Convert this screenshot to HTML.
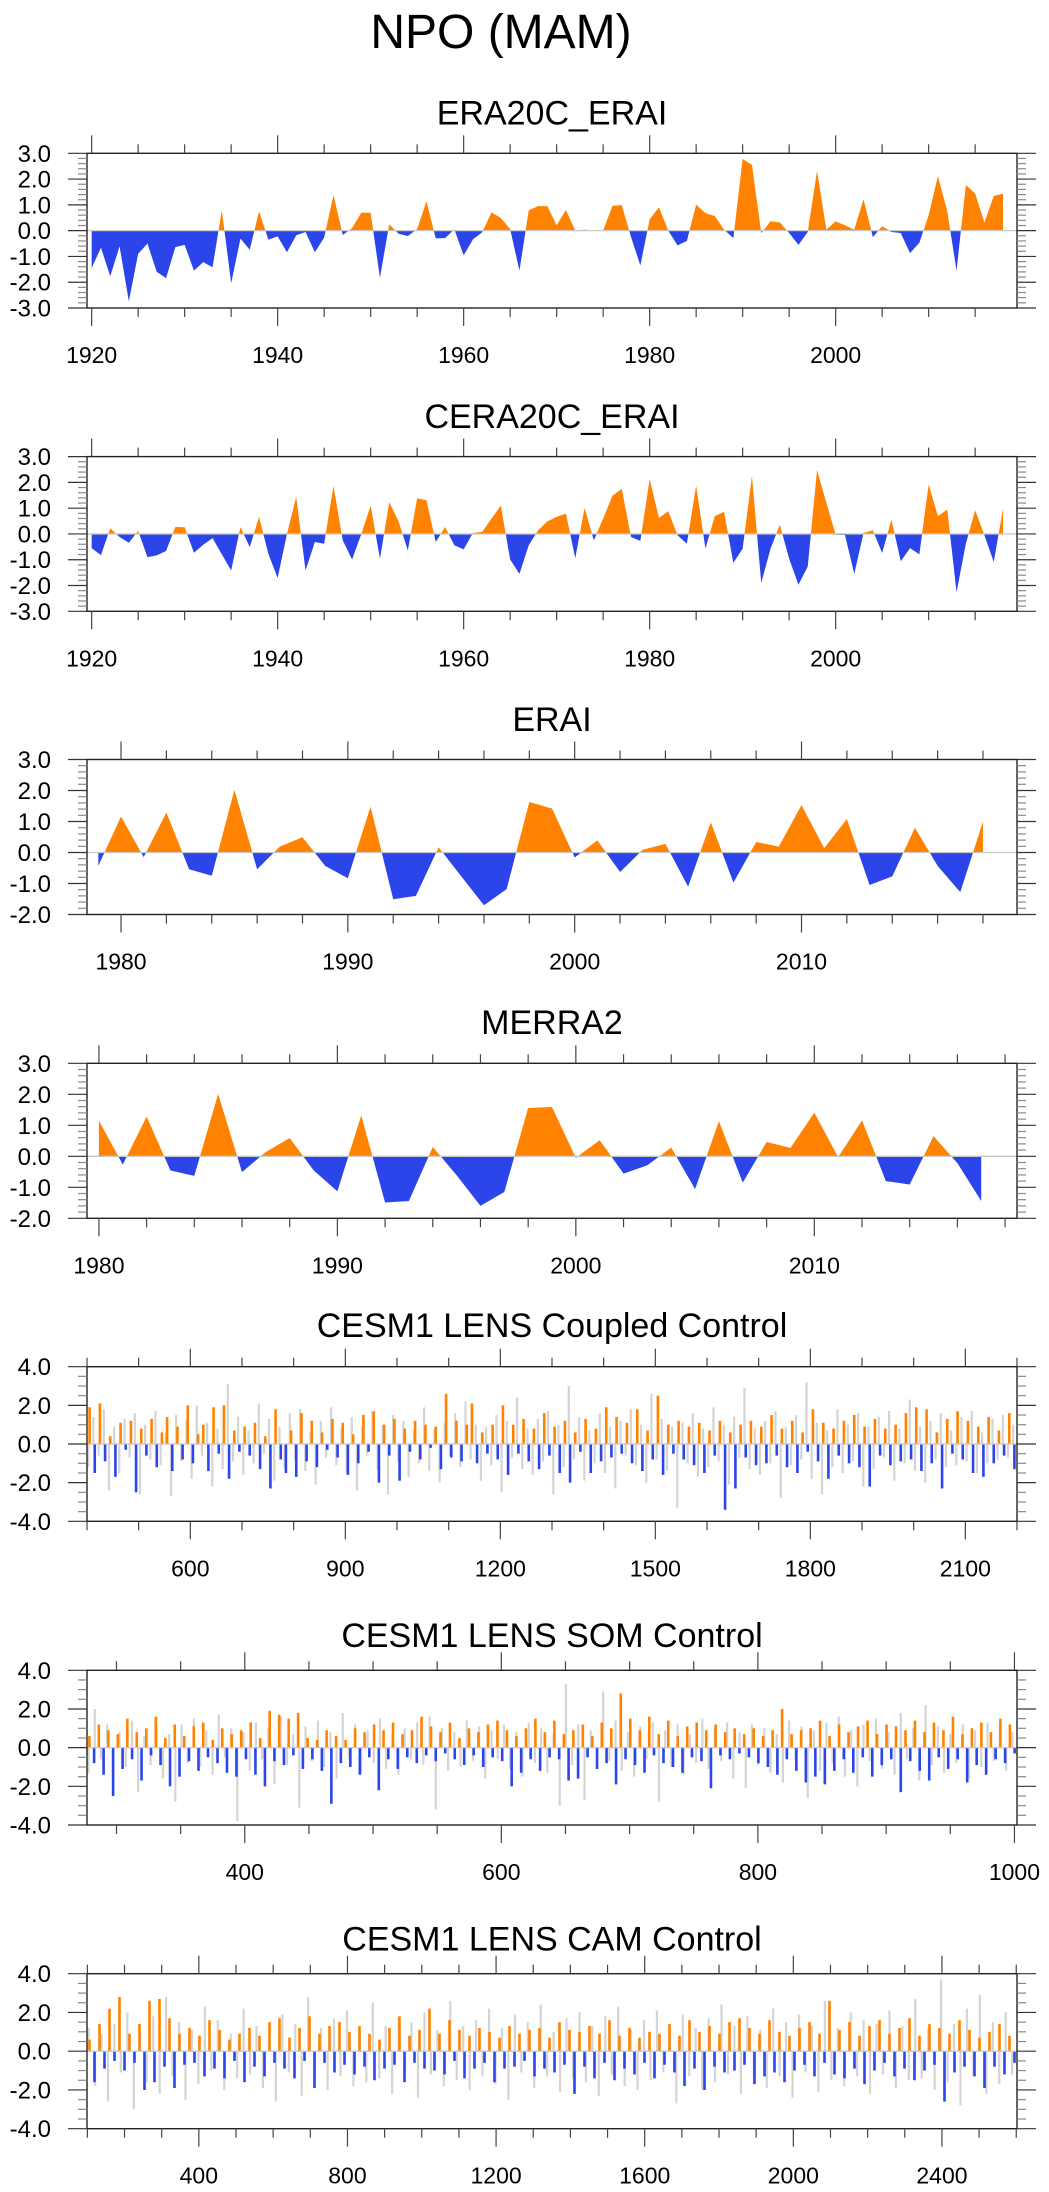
<!DOCTYPE html>
<html><head><meta charset="utf-8"><title>NPO (MAM)</title>
<style>
html,body{margin:0;padding:0;background:#fff;}
svg{display:block;font-family:"Liberation Sans",Arial,sans-serif;}
</style></head>
<body>
<svg id="fig" xmlns="http://www.w3.org/2000/svg" width="1049" height="2192" viewBox="0 0 1049 2192">
<rect x="0" y="0" width="1049" height="2192" fill="#fff"/>
<text x="501" y="48" font-size="48" text-anchor="middle" fill="#000">NPO (MAM)</text>
</svg>
<script>
// ---------- data ----------
const era20cYears = [1920,2018];
const era20cValues = [-1.45,-0.66,-1.77,-0.61,-2.74,-0.9,-0.5,-1.6,-1.84,-0.64,-0.55,-1.55,-1.22,-1.42,0.79,-2.04,-0.31,-0.74,0.75,-0.35,
-0.22,-0.84,-0.18,-0.05,-0.84,-0.27,1.38,-0.17,0.1,0.7,0.69,-1.83,0.25,-0.12,-0.21,0.06,1.14,-0.3,-0.29,0.05,
-0.96,-0.34,-0.06,0.71,0.49,0.06,-1.55,0.79,0.95,0.95,0.21,0.8,0.0,0.04,0.0,0.01,0.96,0.99,-0.25,-1.35,
0.44,0.91,0.0,-0.57,-0.4,1.01,0.68,0.57,0.04,-0.29,2.78,2.55,-0.09,0.36,0.32,-0.09,-0.55,-0.05,2.32,0.04,
0.36,0.21,0.04,1.22,-0.25,0.17,-0.05,-0.09,-0.87,-0.47,0.6,2.12,0.75,-1.55,1.77,1.44,0.31,1.35,1.43];
const cera20cValues = [-0.55,-0.82,0.22,-0.12,-0.34,0.12,-0.9,-0.83,-0.66,0.27,0.26,-0.73,-0.42,-0.16,-0.79,-1.42,0.27,-0.51,0.66,-0.77,
-1.71,0.0,1.44,-1.42,-0.31,-0.38,1.86,-0.25,-0.99,0.0,1.1,-0.96,1.23,0.49,-0.64,1.38,1.31,-0.31,0.27,-0.44,
-0.6,0.04,0.08,0.6,1.1,-0.99,-1.55,-0.44,0.14,0.49,0.66,0.79,-0.94,1.01,-0.25,0.6,1.48,1.75,-0.12,-0.27,
2.13,0.62,0.88,-0.05,-0.38,1.88,-0.57,0.69,0.86,-1.12,-0.57,2.25,-1.9,-0.57,0.36,-0.96,-1.97,-1.26,2.48,1.21,
-0.03,-0.04,-1.55,0.04,0.14,-0.74,0.56,-1.06,-0.55,-0.79,1.92,0.69,0.95,-2.26,-0.38,0.92,-0.05,-1.09,0.99];
const eraiYears = [1979,2018];
const eraiValues = [-0.43,1.16,-0.15,1.29,-0.54,-0.75,2.02,-0.54,0.19,0.49,-0.43,-0.83,1.48,-1.51,-1.4,0.17,-0.77,-1.7,-1.18,1.63,
1.42,-0.16,0.39,-0.63,0.09,0.28,-1.1,0.97,-0.97,0.34,0.19,1.53,0.14,1.08,-1.05,-0.77,0.8,-0.43,-1.28,1.0];
const merraYears = [1980,2017];
const merraValues = [1.15,-0.27,1.28,-0.46,-0.63,2.01,-0.51,0.14,0.59,-0.45,-1.13,1.32,-1.49,-1.44,0.3,-0.61,-1.6,-1.15,1.56,1.59,
-0.05,0.52,-0.56,-0.29,0.28,-1.06,1.13,-0.85,0.46,0.27,1.41,-0.03,1.16,-0.8,-0.91,0.65,-0.22,-1.44];

const coupledRange = [400,2200];
const coupledValues = [1.9,-1.5,2.1,-0.9,0.4,-1.7,1.1,-0.3,1.2,-2.5,0.8,-0.6,1.3,-1.2,0.6,1.4,-1.4,0.9,-0.8,2.0,-1.0,0.5,1.0,-1.4,1.9,-0.5,2.0,-1.8,0.7,-0.4,
0.9,-0.6,1.1,-1.3,0.4,-2.3,1.8,-0.8,-1.5,0.7,-1.7,1.6,-0.9,1.2,-1.2,0.6,-0.3,1.3,-0.7,1.1,-1.6,0.5,-1.0,1.5,-0.4,1.7,-2.0,1.0,-0.6,1.3,
-1.9,0.8,-0.4,1.2,-0.8,1.0,-0.2,0.9,-1.3,2.6,-0.7,1.2,-0.9,1.0,2.1,-1.0,0.6,-0.5,1.0,-0.8,2.0,-1.6,1.0,-0.5,1.3,-0.9,0.8,-1.3,1.6,-0.6,
0.9,-1.5,1.2,-2.0,0.6,-0.4,1.3,-1.5,0.8,-0.9,1.9,-0.7,1.4,-0.5,1.1,-1.0,1.8,-1.4,0.7,-0.8,2.5,-1.6,1.0,-0.5,1.2,-0.8,0.9,-1.1,1.1,-1.5,
0.7,-0.6,1.2,-3.4,0.6,-2.3,1.0,-0.7,1.2,-1.1,0.9,-1.0,1.5,-0.6,0.8,-1.2,1.2,-1.5,0.6,-0.4,1.8,-0.9,1.1,-1.8,0.8,-0.6,1.2,-1.0,1.5,-1.2,
0.9,-2.2,1.3,-0.6,0.8,-1.1,1.0,-0.9,1.6,-0.8,1.9,-1.4,1.8,-1.0,0.6,-2.3,1.3,-0.5,1.7,-0.8,1.2,-1.5,0.9,-1.7,1.4,-1.0,0.7,-0.6,1.6,-1.3];
const coupledGray = [-1.2,1.4,-0.6,1.8,-2.4,0.9,-1.5,1.3,-0.7,1.6,-2.6,1.0,-0.8,1.7,-1.1,0.6,-2.7,1.5,-0.9,1.2,-1.8,2.0,-0.6,1.1,-2.2,0.8,-1.3,3.1,-0.9,1.4,
-1.6,0.7,-1.0,2.1,-0.5,1.3,-1.9,0.9,-1.2,1.6,-0.8,1.8,-1.4,0.6,-2.1,1.2,-0.7,1.9,-1.1,0.8,-1.5,1.4,-2.4,0.9,-0.6,1.7,-1.3,1.0,-2.6,1.5,
-0.9,1.2,-1.7,0.7,-1.0,1.9,-1.4,0.8,-2.0,1.1,-0.6,1.6,-1.2,2.2,-0.8,1.0,-1.9,0.9,-1.1,1.5,-2.5,1.2,-0.7,2.4,-1.3,0.8,-1.6,1.3,-0.9,1.7,
-2.6,1.0,-1.2,3.0,-0.8,1.4,-1.9,0.7,-1.0,1.6,-1.5,0.9,-2.3,1.2,-0.6,1.8,-1.1,1.0,-2.0,2.6,-0.8,1.3,-1.4,0.9,-3.3,1.1,-1.0,1.6,-1.7,0.8,
-1.2,1.9,-0.9,1.0,-2.1,1.4,-0.7,2.9,-1.3,0.8,-1.6,1.2,-1.0,1.7,-2.8,0.9,-1.1,1.5,-0.8,3.2,-1.8,1.1,-2.6,0.7,-1.2,1.8,-1.5,1.0,-0.9,1.6,
-2.2,0.9,-1.3,1.4,-0.7,1.7,-1.9,0.8,-1.0,2.3,-1.4,0.9,-2.0,1.2,-0.8,1.6,-1.2,0.7,-1.1,1.4,-0.9,1.7,-1.5,0.6,-1.0,1.3,-0.8,1.5,-0.7,1.0];

const somRange = [277,1002];
const somValues = [0.6,-0.8,1.2,-1.4,0.9,-2.5,0.7,-1.1,1.5,-0.6,0.8,-1.7,1.0,-0.4,1.6,-0.9,0.5,-2.0,1.2,-1.5,0.6,-0.7,1.1,-1.2,1.3,-0.5,0.4,-0.8,1.0,-1.3,
0.7,-1.5,0.9,-0.6,1.3,-1.4,0.5,-2.0,1.9,-0.7,1.7,-0.9,1.5,-0.4,1.8,-1.1,0.5,-0.6,0.4,-1.2,0.9,-2.9,0.6,-0.8,0.4,-1.0,1.0,-1.4,0.8,-0.5,
1.2,-2.2,0.9,-0.6,1.3,-1.1,0.7,-0.5,0.9,-0.8,1.6,-0.4,1.1,-0.7,0.8,-0.3,1.3,-0.6,0.5,-0.9,1.0,-0.4,0.8,-1.0,1.2,-0.5,1.4,-0.7,0.9,-2.0,
0.6,-1.3,1.0,-0.6,1.5,-1.2,0.8,-0.5,1.4,-0.6,0.7,-1.7,0.9,-1.6,1.2,-0.5,0.6,-1.1,1.3,-0.8,1.0,-1.9,2.8,-0.6,1.5,-0.9,0.9,-1.3,1.6,-0.4,
0.7,-0.8,1.4,-1.0,0.6,-1.3,1.1,-0.5,1.3,-0.7,0.9,-2.1,1.2,-0.4,0.8,-0.6,1.0,-0.3,0.7,-0.5,1.0,-0.8,0.6,-1.0,0.9,-1.4,2.0,-0.6,0.7,-1.2,
0.9,-1.8,1.0,-1.5,1.4,-1.9,0.6,-1.2,1.2,-0.6,0.8,-1.3,1.1,-0.5,1.4,-1.5,0.7,-0.9,1.2,-0.6,1.1,-2.3,0.9,-0.7,1.4,-1.2,0.8,-1.7,1.3,-0.5,
0.9,-1.1,1.6,-0.6,0.7,-1.8,1.0,-0.9,1.3,-1.4,0.8,-0.6,1.5,-0.8,1.2,-0.3];
const somGray = [-1.3,2.0,-0.6,1.2,-1.9,0.8,-1.0,1.4,-2.3,0.6,-0.9,1.1,-1.6,0.7,-2.8,1.2,-0.8,1.5,-1.0,0.9,-1.4,1.7,-0.5,1.0,-3.8,0.8,-1.2,1.3,-0.6,1.0,
-1.9,1.6,-0.9,0.7,-3.1,1.1,-0.7,1.4,-1.0,0.8,-1.6,1.8,-0.6,1.2,-1.3,0.9,-0.8,1.5,-1.1,0.7,-1.4,1.0,-0.6,1.3,-0.9,1.6,-3.2,1.0,-1.2,0.8,
-1.0,1.4,-0.7,1.1,-1.6,0.9,-0.6,1.2,-1.1,0.8,-1.5,1.3,-0.8,1.0,-1.3,0.7,-3.0,3.3,-0.9,1.2,-2.7,0.9,-1.1,2.9,-0.7,1.4,-1.2,0.8,-1.5,1.1,
-0.6,1.3,-2.8,0.9,-1.0,1.2,-1.4,0.7,-0.8,1.5,-1.1,1.0,-0.7,1.3,-1.6,0.8,-2.1,1.2,-0.9,1.0,-1.3,0.7,-1.8,1.4,-0.6,1.1,-2.6,0.9,-1.2,1.3,
-0.8,1.6,-1.5,0.9,-2.0,1.2,-0.7,1.5,-1.1,0.8,-1.4,1.8,-0.6,1.0,-1.7,2.2,-0.9,1.1,-1.3,0.7,-0.8,1.2,-1.6,0.9,-1.0,1.3,-0.7,1.0,-1.2,0.8];

const camRange = [99,2602];
const camValues = [0.6,-1.6,1.4,-0.9,2.2,-0.5,2.8,-1.0,0.9,-0.6,1.4,-2.0,2.6,-1.6,2.7,-0.8,1.7,-1.9,0.9,-0.7,1.2,-0.6,0.8,-1.3,1.6,-0.9,1.1,-1.4,0.6,-0.5,
0.9,-1.6,1.2,-0.8,0.8,-1.3,1.5,-0.6,1.7,-0.9,0.7,-1.4,1.2,-0.5,1.8,-1.9,0.9,-0.6,1.3,-1.1,1.5,-0.7,1.0,-1.2,1.3,-0.8,0.9,-1.5,0.6,-0.9,
1.2,-0.7,1.8,-1.6,0.8,-0.6,1.1,-0.9,2.2,-1.0,0.9,-1.2,1.6,-0.5,1.1,-1.4,0.8,-0.9,1.2,-0.6,1.0,-1.6,0.7,-0.9,1.3,-0.8,0.9,-0.5,1.1,-1.3,
1.2,-0.9,0.7,-1.1,1.5,-0.7,1.1,-2.2,1.0,-0.8,1.3,-1.4,0.9,-0.6,1.6,-1.5,0.8,-0.9,1.2,-1.2,0.7,-0.6,1.0,-1.4,0.9,-0.7,1.4,-1.1,0.8,-1.8,
1.6,-0.9,1.0,-2.0,1.3,-0.8,0.9,-1.1,1.5,-1.0,1.7,-0.7,1.2,-1.7,0.9,-1.3,1.6,-1.1,1.0,-1.6,0.8,-1.0,1.2,-0.7,1.5,-1.3,0.9,-0.6,2.6,-1.2,
1.1,-1.4,1.5,-0.9,0.8,-1.7,1.3,-1.0,1.6,-0.6,0.9,-1.3,1.2,-0.9,1.7,-1.5,0.8,-1.0,1.4,-0.7,1.2,-2.6,0.9,-1.1,1.6,-0.8,1.1,-1.3,0.7,-1.9,
1.0,-0.8,1.4,-1.2,0.8,-0.6];
const camGray = [1.2,-1.8,0.9,-2.6,1.4,-1.1,2.0,-3.0,1.0,-1.6,1.8,-2.2,2.8,-1.3,1.5,-2.5,1.1,-1.7,2.3,-1.0,1.6,-2.0,0.9,-1.4,2.2,-1.2,1.3,-1.9,1.0,-2.6,
1.9,-1.1,1.4,-2.3,2.8,-1.5,1.2,-2.0,1.7,-1.3,2.1,-1.8,1.0,-1.6,2.5,-1.4,1.3,-2.2,1.8,-1.0,1.5,-2.4,2.0,-1.2,1.1,-1.8,2.6,-1.5,1.3,-2.0,
1.6,-1.3,2.2,-1.7,1.2,-2.5,1.9,-1.1,1.5,-1.9,2.4,-1.3,1.0,-2.1,1.7,-1.4,2.0,-1.6,1.3,-2.3,1.8,-1.2,2.3,-1.8,1.1,-2.0,1.6,-1.5,2.1,-1.1,
1.4,-2.7,1.9,-1.3,1.2,-2.0,1.7,-1.6,2.4,-1.2,1.3,-2.2,1.8,-1.4,1.1,-1.9,2.2,-1.3,1.5,-2.4,1.9,-1.1,1.3,-2.1,2.6,-1.5,1.2,-1.8,2.0,-1.3,
1.6,-2.2,1.4,-1.2,2.1,-1.9,1.3,-1.5,2.7,-1.4,1.2,-2.0,3.7,-1.6,1.4,-2.8,2.2,-1.3,2.9,-2.2,1.5,-1.7,2.0,-1.2];

// ---------- rendering ----------
const NS = 'http://www.w3.org/2000/svg';
const svg = document.getElementById('fig');
const ORANGE = '#ff8200', BLUE = '#2b45ea', AXIS = '#222';
const BX0 = 87, BX1 = 1017;

function mk(tag, attrs, parent) {
  const e = document.createElementNS(NS, tag);
  for (const k in attrs) e.setAttribute(k, attrs[k]);
  (parent || svg).appendChild(e);
  return e;
}

function makeAxes(p) {
  const xs = v => BX0 + (v - p.xmin) / (p.xmax - p.xmin) * (BX1 - BX0);
  const ys = v => p.top + (p.ymax - v) / (p.ymax - p.ymin) * (p.bot - p.top);
  return {xs, ys};
}

function drawFrame(p, g, ax) {
  const {xs, ys} = ax;
  const zl = mk('line', {x1: BX0, x2: BX1, y1: ys(0), y2: ys(0), stroke: '#c8c8c8', 'stroke-width': 1.3}, g);
  
  
  const box = mk('rect', {x: BX0, y: p.top, width: BX1 - BX0, height: p.bot - p.top, fill: 'none', stroke: AXIS, 'stroke-width': 1.4}, g);
  
  
  const first = Math.ceil(p.xmin / p.xminor) * p.xminor;
  for (let v = first; v <= p.xmax + 1e-6; v += p.xminor) {
    const major = Math.abs(((v - p.xmajor0) / p.xmajor) - Math.round((v - p.xmajor0) / p.xmajor)) < 1e-6;
    const L = major ? 18 : 9;
    const x = xs(v);
    const t1 = mk('line', {x1: x, x2: x, y1: p.bot, y2: p.bot + L, stroke: '#444', 'stroke-width': 1.2}, g);
    
    
    const t2 = mk('line', {x1: x, x2: x, y1: p.top, y2: p.top - L, stroke: '#444', 'stroke-width': 1.2}, g);
    
    
    if (major) {
      const tl = mk('text', {x: x, y: p.bot + 55, 'font-size': 23, 'text-anchor': 'middle', fill: '#000'}, g);
      tl.textContent = String(Math.round(v));
      
      
    }
  }
  const ny = Math.round((p.ymax - p.ymin) / p.yminor);
  for (let i = 0; i <= ny; i++) {
    const v = p.ymin + i * p.yminor;
    const major = Math.abs(v / p.ymajor - Math.round(v / p.ymajor)) < 1e-6;
    const L = major ? 19 : 9;
    const y = ys(v);
    const a = mk('line', {x1: BX0, x2: BX0 - L, y1: y, y2: y, stroke: major ? '#333' : '#888', 'stroke-width': 1.2}, g);
    
    
    const b = mk('line', {x1: BX1, x2: BX1 + L, y1: y, y2: y, stroke: major ? '#333' : '#888', 'stroke-width': 1.2}, g);
    
    
    if (major) {
      const tl = mk('text', {x: 51, y: y + 8.5, 'font-size': 24, 'text-anchor': 'end', fill: '#000'}, g);
      tl.textContent = v.toFixed(1);
      
      
    }
  }
  const tt = mk('text', {x: (BX0 + BX1) / 2, y: p.titleY + 12, 'font-size': 34, 'text-anchor': 'middle', fill: '#000'}, g);
  tt.textContent = p.title;
  
  
}

function areaPanel(p, years, vals) {
  const g = mk('g', {});
  
  
  const ax = makeAxes(p);
  const {xs, ys} = ax;
  const pts = [];
  for (let i = 0; i < vals.length; i++) {
    const x = years[0] + i, v = vals[i];
    if (i > 0) {
      const pv = vals[i - 1];
      if ((pv > 0 && v < 0) || (pv < 0 && v > 0)) {
        const t = pv / (pv - v);
        pts.push([x - 1 + t, 0]);
      }
    }
    pts.push([x, v]);
  }
  function poly(fn, color, nm) {
    let d = 'M' + xs(pts[0][0]) + ',' + ys(0);
    for (const q of pts) d += 'L' + xs(q[0]).toFixed(2) + ',' + ys(fn(q[1])).toFixed(2);
    d += 'L' + xs(pts[pts.length - 1][0]) + ',' + ys(0) + 'Z';
    const e = mk('path', {d: d, fill: color, stroke: 'none'}, g);
    
    
  }
  poly(v => Math.max(v, 0), ORANGE, 'positive-area');
  poly(v => Math.min(v, 0), BLUE, 'negative-area');
  drawFrame(p, g, ax);
}

function barPanel(p, range, vals, gray) {
  const g = mk('g', {});
  
  
  const ax = makeAxes(p);
  const {xs, ys} = ax;
  const span = range[1] - range[0];
  gray.forEach((v, i) => {
    const x = xs(range[0] + (i + 0.25) * span / gray.length);
    const e = mk('line', {x1: x, x2: x, y1: ys(0), y2: ys(v), stroke: '#d4d4d4', 'stroke-width': 2.2}, g);
    
    
  });
  vals.forEach((v, i) => {
    const x = xs(range[0] + (i + 0.5) * span / vals.length);
    const e = mk('line', {x1: x, x2: x, y1: ys(0), y2: ys(v), stroke: v > 0 ? ORANGE : BLUE, 'stroke-width': 2.6}, g);
    
    
  });
  drawFrame(p, g, ax);
}

areaPanel({name: 'panel-era20c-erai', title: 'ERA20C_ERAI', top: 153.3, bot: 308, titleY: 112.5,
  xmin: 1919.5, xmax: 2019.5, xminor: 5, xmajor: 20, xmajor0: 1920, ymin: -3, ymax: 3, yminor: 0.2, ymajor: 1},
  era20cYears, era20cValues);
areaPanel({name: 'panel-cera20c-erai', title: 'CERA20C_ERAI', top: 456.6, bot: 611.3, titleY: 416,
  xmin: 1919.5, xmax: 2019.5, xminor: 5, xmajor: 20, xmajor0: 1920, ymin: -3, ymax: 3, yminor: 0.2, ymajor: 1},
  era20cYears, cera20cValues);
areaPanel({name: 'panel-erai', title: 'ERAI', top: 759.5, bot: 914.5, titleY: 719,
  xmin: 1978.5, xmax: 2019.5, xminor: 2, xmajor: 10, xmajor0: 1980, ymin: -2, ymax: 3, yminor: 0.2, ymajor: 1},
  eraiYears, eraiValues);
areaPanel({name: 'panel-merra2', title: 'MERRA2', top: 1063.3, bot: 1218.3, titleY: 1022,
  xmin: 1979.5, xmax: 2018.5, xminor: 2, xmajor: 10, xmajor0: 1980, ymin: -2, ymax: 3, yminor: 0.2, ymajor: 1},
  merraYears, merraValues);
barPanel({name: 'panel-coupled-control', title: 'CESM1 LENS Coupled Control', top: 1366.7, bot: 1521.3, titleY: 1325,
  xmin: 400, xmax: 2200, xminor: 100, xmajor: 300, xmajor0: 600, ymin: -4, ymax: 4, yminor: 0.5, ymajor: 2},
  coupledRange, coupledValues, coupledGray);
barPanel({name: 'panel-som-control', title: 'CESM1 LENS SOM Control', top: 1670.3, bot: 1825, titleY: 1635,
  xmin: 277, xmax: 1002, xminor: 50, xmajor: 200, xmajor0: 400, ymin: -4, ymax: 4, yminor: 0.5, ymajor: 2},
  somRange, somValues, somGray);
barPanel({name: 'panel-cam-control', title: 'CESM1 LENS CAM Control', top: 1973.7, bot: 2128.7, titleY: 1938.5,
  xmin: 99, xmax: 2602, xminor: 100, xmajor: 400, xmajor0: 400, ymin: -4, ymax: 4, yminor: 0.5, ymajor: 2},
  camRange, camValues, camGray);
</script>
</body></html>
